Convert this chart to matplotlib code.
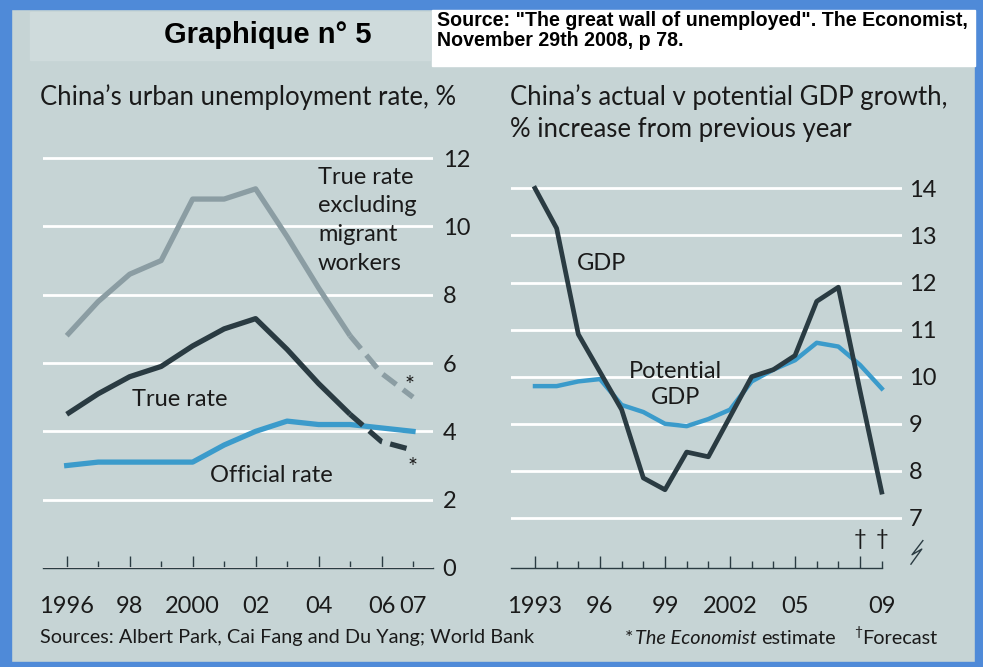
import matplotlib
matplotlib.use("Agg")
import matplotlib.pyplot as plt
from matplotlib.patches import Rectangle
from matplotlib import font_manager as fm

# ---- data -------------------------------------------------------------
years_u = [1996, 1997, 1998, 1999, 2000, 2001, 2002, 2003, 2004, 2005, 2006, 2007]
true_excl_migrants = [6.8, 7.8, 8.6, 9.0, 10.8, 10.8, 11.1, 9.7, 8.2, 6.8, 5.7, 5.0]
true_rate = [4.5, 5.1, 5.6, 5.9, 6.5, 7.0, 7.3, 6.4, 5.4, 4.5, 3.7, 3.45]
official_rate = [3.0, 3.1, 3.1, 3.1, 3.1, 3.6, 4.0, 4.3, 4.2, 4.2, 4.1, 4.0]
estimate_from = 2005  # later points are estimates (dashed)

years_g = list(range(1993, 2010))
gdp = [14.0, 13.15, 10.9, 10.1, 9.3, 7.85, 7.6, 8.4, 8.3, 9.15, 10.0, 10.15, 10.45,
       11.6, 11.9, 9.7, 7.55]
potential_gdp = [9.8, 9.8, 9.9, 9.95, 9.4, 9.25, 9.0, 8.95, 9.1, 9.3, 9.9, 10.15,
                 10.35, 10.72, 10.64, 10.25, 9.75]

u_xticks = [1996, 1998, 2000, 2002, 2004, 2006, 2007]
u_xlabels = ["1996", "98", "2000", "02", "04", "06", "07"]
u_yticks = [0, 2, 4, 6, 8, 10, 12]

g_xticks = [1993, 1996, 1999, 2002, 2005, 2008, 2009]
g_xlabels = ["1993", "96", "99", "2002", "05", "", "09"]
g_yticks = [7, 8, 9, 10, 11, 12, 13, 14]

# ---- style ------------------------------------------------------------
W, H = 983, 667
BG = "#c6d4d5"
DARK = "#2a3b42"
GREY = "#8b9da3"
BLUE = "#3b9bcb"
FRAME = "#4f8ad8"
INK = "#1a1a1a"

installed = {f.name for f in fm.fontManager.ttflist}
SANS = "Lato" if "Lato" in installed else "DejaVu Sans"

fig = plt.figure(figsize=(W / 100, H / 100), dpi=100, facecolor=BG)


def add_axes_px(x0, x1, ytop, ybot):
    return fig.add_axes([x0 / W, (H - ybot) / H, (x1 - x0) / W, (ybot - ytop) / H])


def fig_text(x, y, s, **kw):
    return fig.text(x / W, 1 - y / H, s, **kw)


# frame and header boxes
for r in [(0, 0, W, 9), (0, 0, 11, H), (0, H - 5, W, 5), (W - 8, 0, 8, H)]:
    fig.patches.append(Rectangle((r[0] / W, 1 - (r[1] + r[3]) / H), r[2] / W, r[3] / H,
                                 transform=fig.transFigure, color=FRAME, zorder=0))
fig.patches.append(Rectangle((30 / W, 1 - 60 / H), 400 / W, 48 / H,
                             transform=fig.transFigure, color="#cfdbdc", zorder=0))
fig.patches.append(Rectangle((432 / W, 1 - 66 / H), 543 / W, 56 / H,
                             transform=fig.transFigure, color="white", zorder=0))

fig_text(268, 35, "Graphique n° 5", fontsize=21, fontweight="bold",
         family="Liberation Sans", ha="center", va="center")
fig_text(437, 20, "Source: \"The great wall of unemployed\". The Economist,",
         fontsize=14.1, fontweight="bold", family="Liberation Sans", ha="left",
         va="center")
fig_text(437, 41, "November 29th 2008, p 78.",
         fontsize=14.1, fontweight="bold", family="Liberation Sans", ha="left",
         va="center")

sub_kw = dict(fontsize=18.5, family=SANS, ha="left", va="center", color=INK)
fig_text(40, 97, "China’s urban unemployment rate, %", **sub_kw)
fig_text(510, 97, "China’s actual v potential GDP growth,", **sub_kw)
fig_text(510, 130, "% increase from previous year", **sub_kw)

foot_kw = dict(fontsize=14.3, family=SANS, va="center", color=INK)
fig_text(40, 638, "Sources: Albert Park, Cai Fang and Du Yang; World Bank", ha="left",
         **foot_kw)
fig_text(937, 638, "Forecast", ha="right", **foot_kw)
fig_text(862, 632, "†", ha="right", fontsize=10, family=SANS, va="center", color=INK)

# footnote assembled right-to-left so the italic title sits flush
renderer = fig.canvas.get_renderer()
t_est = fig_text(836, 638, "estimate", ha="right", **foot_kw)
left = t_est.get_window_extent(renderer).x0
t_it = fig.text((left - 5) / W, 1 - 638 / H, "The Economist", ha="right", style="italic",
                **foot_kw)
left = t_it.get_window_extent(renderer).x0
fig.text((left - 1) / W, 1 - 638 / H, "*", ha="right", **foot_kw)


def style_axes(ax, yticks, ypad):
    ax.patch.set_alpha(0)
    for s in ("top", "left", "right"):
        ax.spines[s].set_visible(False)
    ax.spines["bottom"].set_color(DARK)
    ax.spines["bottom"].set_linewidth(1.0)
    ax.set_axisbelow(True)
    ax.grid(axis="y", color="white", linewidth=2.0)
    ax.grid(axis="x", visible=False)
    ax.yaxis.tick_right()
    ax.set_yticks(yticks)
    ax.set_yticklabels([str(v) for v in yticks], family=SANS, fontsize=17, color=INK)
    ax.tick_params(axis="y", length=0, pad=ypad)
    ax.tick_params(axis="x", which="major", direction="in", length=9, width=1,
                   color=DARK, pad=20, labelsize=17, labelcolor=INK)
    ax.tick_params(axis="x", which="minor", direction="in", length=5, width=1,
                   color=DARK)


# ---- left panel: urban unemployment ----------------------------------
axL = add_axes_px(43, 433, 141, 568)
axL.set_xlim(1995.247, 2007.635)
axL.set_ylim(0, 12.5)
style_axes(axL, u_yticks, 7)
axL.set_xticks(u_xticks)
axL.set_xticklabels(u_xlabels, family=SANS)
axL.set_xticks([y for y in years_u if y not in u_xticks], minor=True)
axL.xaxis.get_major_ticks()[-1].tick1line.set_markersize(5)

k = years_u.index(estimate_from)
lw = 3.8
axL.plot(years_u, official_rate, color=BLUE, lw=lw, zorder=3)
axL.plot(years_u[:k + 1], true_excl_migrants[:k + 1], color=GREY, lw=lw,
         solid_capstyle="butt", zorder=3)
axL.plot(years_u[k:], true_excl_migrants[k:], color=GREY, lw=lw, dashes=(3.2, 1.6),
         zorder=3)
axL.plot(years_u[:k + 1], true_rate[:k + 1], color=DARK, lw=lw,
         solid_capstyle="butt", zorder=4)
axL.plot(years_u[k:], true_rate[k:], color=DARK, lw=lw, dashes=(3.2, 1.6), zorder=4)

lab_kw = dict(family=SANS, fontsize=17, color=INK)
axL.text(2003.98, 11.75, "True rate\nexcluding\nmigrant\nworkers", ha="left", va="top",
         linespacing=1.45, **lab_kw)
axL.text(1998.07, 4.94, "True rate", ha="left", va="center", **lab_kw)
axL.text(2000.55, 2.72, "Official rate", ha="left", va="center", **lab_kw)
axL.text(2006.9, 5.35, "*", ha="center", va="center", **lab_kw)
axL.text(2007.0, 2.95, "*", ha="center", va="center", **lab_kw)

# ---- right panel: GDP growth -------------------------------------------
axR = add_axes_px(510.7, 901.7, 165, 568.3)
axR.set_xlim(1991.879, 2009.923)
axR.set_ylim(5.932, 14.495)
style_axes(axR, g_yticks, 5)
axR.set_xticks(g_xticks)
axR.set_xticklabels(g_xlabels, family=SANS)
axR.set_xticks([y for y in years_g if y not in g_xticks], minor=True)
axR.xaxis.get_major_ticks()[-1].tick1line.set_markersize(5)
axR.spines["bottom"].set_bounds(1991.879, 2009)

axR.plot(years_g, potential_gdp, color=BLUE, lw=3.2, zorder=3)
axR.plot(years_g, gdp, color=DARK, lw=3.4, zorder=4)

axR.text(1994.94, 12.41, "GDP", ha="left", va="center", **lab_kw)
axR.text(1999.48, 9.83, "Potential\nGDP", ha="center", va="center", linespacing=1.3,
         **lab_kw)
for yr in (2008, 2009):
    axR.text(yr, 6.55, "†", ha="center", va="center", family=SANS, fontsize=16,
             color=INK)

# axis-break mark beside the truncated scale
zx = [2010.35, 2010.85, 2010.4, 2010.9]
zy = [6.02, 6.34, 6.22, 6.52]
axR.plot(zx, zy, color=DARK, lw=1.0, clip_on=False)

fig.savefig("out.png", dpi=100, facecolor=BG)
